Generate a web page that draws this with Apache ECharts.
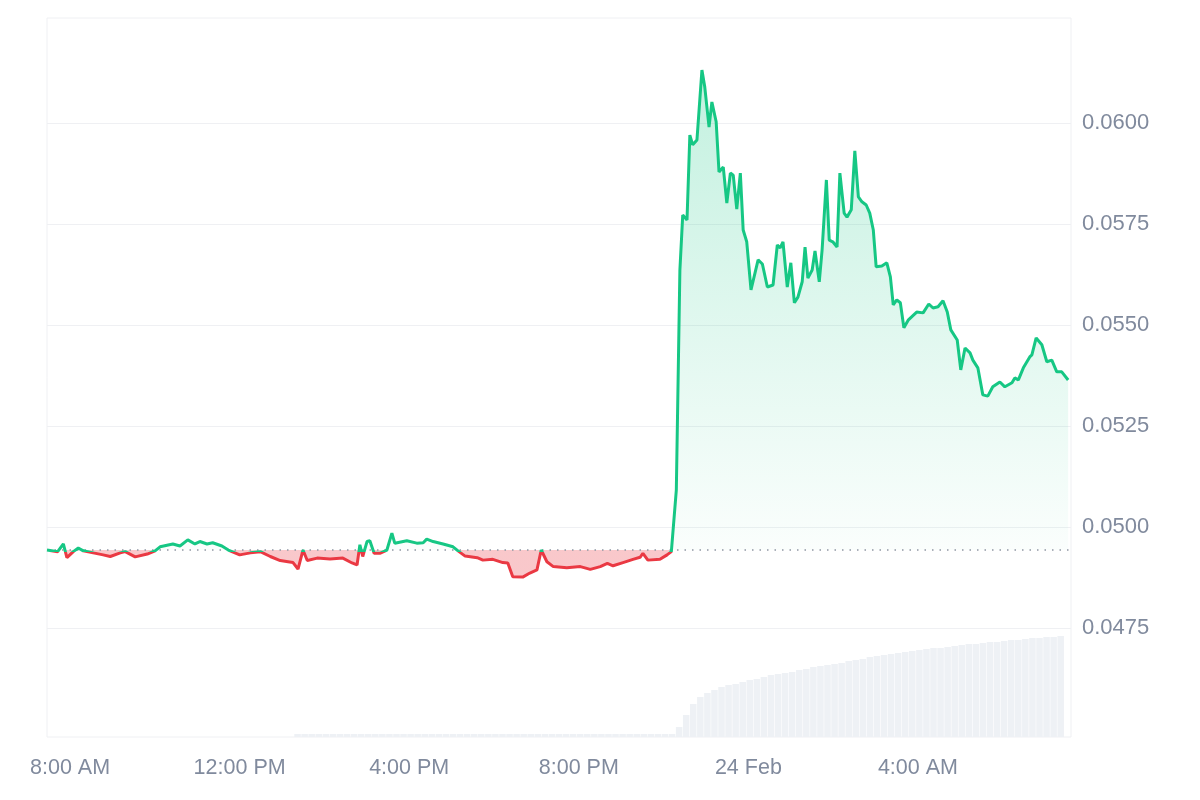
<!DOCTYPE html>
<html>
<head>
<meta charset="utf-8">
<script src="https://cdn.jsdelivr.net/npm/echarts@6/dist/echarts.min.js"></script>
<style>
html,body{margin:0;padding:0;background:#ffffff;}
#chart{width:1200px;height:800px;}
</style>
</head>
<body>
<div id="chart"></div>
<script>
// ---- data ----
const startTime = new Date(2025, 1, 23, 7, 32, 0).getTime();
const endTime = startTime + 24 * 3600 * 1000;
const baselinePrice = 0.04943;

const priceMinutes = [
  0, 15, 23, 28, 37, 44, 51, 65, 79, 89, 103, 110, 124, 141, 152, 159, 177, 187, 198, 208,
  215, 225, 233, 246, 255, 271, 286, 300, 314, 328, 339, 346, 353, 360, 366, 380, 398, 416, 429, 436,
  440, 444, 450, 454, 460, 468, 478, 485, 489, 506, 520, 529, 534, 543, 557, 571, 578, 588, 605, 613,
  627, 641, 648, 655, 669, 679, 689, 695, 703, 712, 731, 750, 764, 778, 788, 796, 810, 824, 834, 838,
  845, 862, 872, 878, 885, 890, 894, 900, 904, 908, 914, 921, 925, 931, 935, 941, 945, 951, 956, 961,
  965, 970, 975, 979, 984, 990, 1000, 1006, 1013, 1021, 1027, 1031, 1035, 1041, 1046, 1051, 1056, 1062, 1066, 1070,
  1076, 1080, 1086, 1090, 1096, 1100, 1105, 1111, 1115, 1121, 1125, 1131, 1136, 1141, 1146, 1152, 1157, 1162, 1166, 1174,
  1181, 1186, 1190, 1195, 1200, 1205, 1211, 1223, 1232, 1240, 1246, 1253, 1260, 1266, 1271, 1280, 1285, 1291, 1298, 1302,
  1309, 1316, 1323, 1330, 1340, 1347, 1357, 1361, 1366, 1373, 1382, 1385, 1391, 1399, 1406, 1413, 1420, 1427, 1436
];
const prices = [
  0.04943, 0.04939, 0.04958, 0.04924, 0.04939, 0.04948, 0.04941, 0.04936, 0.04931, 0.04927,
  0.04936, 0.04939, 0.04926, 0.04933, 0.04941, 0.04951, 0.04958, 0.04953, 0.04968, 0.04958,
  0.04964, 0.04958, 0.04961, 0.04953, 0.04943, 0.04931, 0.04936, 0.04939, 0.04927, 0.04917,
  0.04914, 0.04912, 0.04896, 0.04943, 0.04917, 0.04923, 0.04921, 0.04923, 0.04911, 0.04906,
  0.04956, 0.04927, 0.04964, 0.04966, 0.04935, 0.04935, 0.04943, 0.04985, 0.04960, 0.04966,
  0.04960, 0.04961, 0.04970, 0.04964, 0.04958, 0.04951, 0.04941, 0.04928, 0.04924, 0.04918,
  0.04920, 0.04912, 0.04911, 0.04877, 0.04876, 0.04886, 0.04894, 0.04943, 0.04914, 0.04902,
  0.04899, 0.04902, 0.04895, 0.04902, 0.04910, 0.04904, 0.04912, 0.04920, 0.04925, 0.04935,
  0.04918, 0.04920, 0.04931, 0.04939, 0.05092, 0.05636, 0.05772, 0.05760, 0.05970, 0.05946,
  0.05958, 0.06131, 0.06089, 0.05990, 0.06052, 0.06003, 0.05879, 0.05891, 0.05802, 0.05876,
  0.05871, 0.05787, 0.05876, 0.05735, 0.05706, 0.05587, 0.05661, 0.05651, 0.05594, 0.05599,
  0.05698, 0.05691, 0.05706, 0.05594, 0.05654, 0.05555, 0.05569, 0.05607, 0.05693, 0.05616,
  0.05636, 0.05683, 0.05607, 0.05686, 0.05859, 0.05710, 0.05706, 0.05693, 0.05876, 0.05777,
  0.05767, 0.05785, 0.05931, 0.05817, 0.05805, 0.05797, 0.05777, 0.05735, 0.05644, 0.05646,
  0.05654, 0.05619, 0.05550, 0.05562, 0.05555, 0.05493, 0.05512, 0.05532, 0.05530, 0.05552,
  0.05542, 0.05545, 0.05560, 0.05532, 0.05488, 0.05463, 0.05389, 0.05443, 0.05431, 0.05413,
  0.05394, 0.05327, 0.05324, 0.05347, 0.05359, 0.05347, 0.05357, 0.05369, 0.05364, 0.05394,
  0.05421, 0.05426, 0.05468, 0.05451, 0.05409, 0.05413, 0.05384, 0.05384, 0.05364
];

const volumeStartMinute = 350;
const volumeStepMinutes = 10;
const volumes = [
  3, 3, 3, 3, 3, 3, 3, 3, 3, 3, 3, 3, 3, 3, 3, 3, 3, 3, 3, 3,
  3, 3, 3, 3, 3, 3, 3, 3, 3, 3, 3, 3, 3, 3, 3, 3, 3, 3, 3, 3,
  3, 3, 3, 3, 3, 3, 3, 3, 3, 3, 3, 3, 3,
  3, 10, 22, 33, 40, 44, 47, 50, 52, 53, 55, 57, 58, 60, 62, 63, 64, 65, 67, 68,
  70, 71, 72, 73, 74, 76, 77, 78, 80, 81, 82, 83, 84, 85, 86, 87, 88, 89, 89, 90,
  91, 92, 93, 93, 94, 95, 95, 96, 97, 97, 98, 99, 99, 100, 100, 101
];
const volumeAxisMax = 719;

const priceTicks = { min: 0.0450, max: 0.0625, interval: 0.0025 };
const monthNames = ['Jan','Feb','Mar','Apr','May','Jun','Jul','Aug','Sep','Oct','Nov','Dec'];

// ---- build ----
const MIN = 60 * 1000;
const priceData = priceMinutes.map((m, i) => [startTime + m * MIN, prices[i]]);
const volumeData = volumes.map((v, i) => [startTime + (volumeStartMinute + i * volumeStepMinutes) * MIN, v]);
const baselineData = [[startTime, baselinePrice], [endTime, baselinePrice]];

const pMax = Math.max.apply(null, prices);
const pMin = Math.min.apply(null, prices);
const split = (pMax - baselinePrice) / (pMax - pMin);  // gradient stop at the baseline

const GREEN = '#16c784', RED = '#ea3943';
const lineGradient = new echarts.graphic.LinearGradient(0, 0, 0, 1, [
  { offset: 0, color: GREEN }, { offset: split, color: GREEN },
  { offset: split, color: RED }, { offset: 1, color: RED }
]);
const areaGradient = new echarts.graphic.LinearGradient(0, 0, 0, 1, [
  { offset: 0, color: 'rgba(22,199,132,0.26)' }, { offset: split, color: 'rgba(22,199,132,0.02)' },
  { offset: split, color: 'rgba(234,57,67,0.28)' }, { offset: 1, color: 'rgba(234,57,67,0.28)' }
]);

const textColor = '#808a9d';
const gridLine = '#eff0f3';
const fontFamily = "'Liberation Sans', Arial, Helvetica, sans-serif";

function timeLabel(val) {
  const d = new Date(val);
  const h = d.getHours(), mi = d.getMinutes();
  if (h === 0 && mi === 0) return d.getDate() + ' ' + monthNames[d.getMonth()];
  const h12 = h % 12 === 0 ? 12 : h % 12;
  return h12 + ':' + String(mi).padStart(2, '0') + ' ' + (h < 12 ? 'AM' : 'PM');
}

const nTicks = Math.round((priceTicks.max - priceTicks.min) / priceTicks.interval) + 1;
const splitColors = [];
for (let i = 0; i < nTicks; i++) splitColors.push(i === 0 || i === nTicks - 1 ? 'rgba(0,0,0,0)' : gridLine);

const chart = echarts.init(document.getElementById('chart'), null, { renderer: 'canvas' });
chart.setOption({
  animation: false,
  backgroundColor: '#ffffff',
  grid: [
    { left: 47, right: 129, top: 18, bottom: 63, show: true, borderColor: gridLine, borderWidth: 1, backgroundColor: 'transparent' },
    { left: 47, right: 129, top: 22, bottom: 71 }
  ],
  xAxis: [
    {
      type: 'time', gridIndex: 0, min: startTime, max: endTime,
      minInterval: 4 * 3600 * 1000, maxInterval: 4 * 3600 * 1000,
      axisLine: { show: false }, axisTick: { show: false }, splitLine: { show: false },
      axisLabel: { formatter: timeLabel, color: textColor, fontSize: 21.5, fontFamily: fontFamily, margin: 20, hideOverlap: false }
    },
    {
      type: 'time', gridIndex: 1, min: startTime, max: endTime,
      axisLine: { show: false }, axisTick: { show: false }, splitLine: { show: false }, axisLabel: { show: false }
    }
  ],
  yAxis: [
    {
      type: 'value', gridIndex: 0, min: 0, max: volumeAxisMax,
      axisLine: { show: false }, axisTick: { show: false }, splitLine: { show: false }, axisLabel: { show: false }
    },
    {
      type: 'value', gridIndex: 1, position: 'right',
      min: priceTicks.min, max: priceTicks.max, interval: priceTicks.interval,
      axisLine: { show: false }, axisTick: { show: false },
      splitLine: { show: true, lineStyle: { color: splitColors, width: 1 } },
      axisLabel: {
        color: textColor, fontSize: 22, fontFamily: fontFamily, margin: 11,
        showMinLabel: false, showMaxLabel: false,
        formatter: v => v.toFixed(4)
      }
    }
  ],
  series: [
    {
      type: 'bar', xAxisIndex: 0, yAxisIndex: 0, data: volumeData,
      barWidth: 6.5, itemStyle: { color: '#eef1f5' }, silent: true
    },
    {
      type: 'line', xAxisIndex: 1, yAxisIndex: 1, data: priceData,
      symbol: 'none', lineStyle: { width: 0, opacity: 0 },
      areaStyle: { origin: baselinePrice, color: areaGradient, opacity: 1 }, silent: true, z: 2
    },
    {
      type: 'line', xAxisIndex: 1, yAxisIndex: 1, data: baselineData,
      symbol: 'none', silent: true, z: 3,
      lineStyle: { color: '#8f96a3', type: [1.5, 6], width: 1.5 }
    },
    {
      type: 'line', xAxisIndex: 1, yAxisIndex: 1, data: priceData,
      symbol: 'none', lineStyle: { width: 3, color: lineGradient }, silent: true, z: 4
    }
  ]
});
</script>
</body>
</html>
